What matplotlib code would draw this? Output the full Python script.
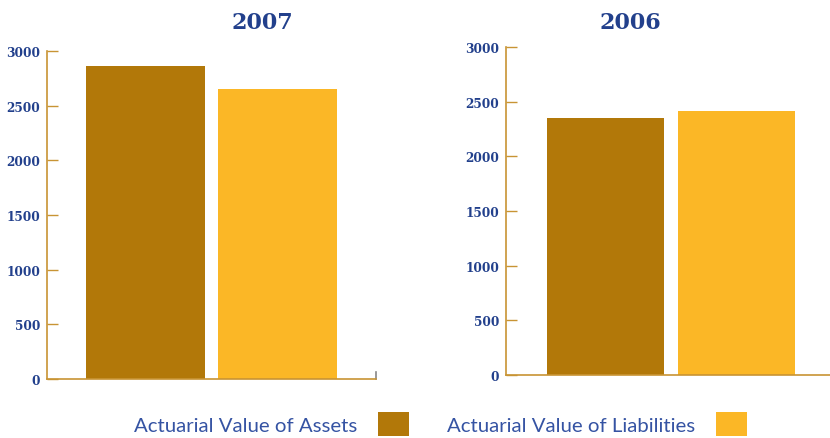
import matplotlib
matplotlib.use("Agg")
import matplotlib.pyplot as plt
from matplotlib.patches import Patch

years = ["2007", "2006"]
series = ["Actuarial Value of Assets", "Actuarial Value of Liabilities"]
assets = [2863, 2351]
liabilities = [2652, 2415]
yticks = [0, 500, 1000, 1500, 2000, 2500, 3000]

c_assets = "#B27809"
c_liab = "#FBB726"
c_axis = "#C89434"
c_text = "#22408C"
c_leg = "#3553A3"

W, H = 830, 439
fig = plt.figure(figsize=(W / 100, H / 100), dpi=100)

panels = [
    # (left px, right px, y0 px, y3000 px, xlim)
    (47, 376, 380, 52, (-0.746, 1.746)),
    (506, 830, 376, 48, (-0.76, 1.714)),
]

for i, (lp, rp, y0, y3, xl) in enumerate(panels):
    ax = fig.add_axes([lp / W, (H - y0) / H, (rp - lp) / W, (y0 - y3) / H])
    ax.bar([0, 1], [assets[i], liabilities[i]], width=0.9,
           color=[c_assets, c_liab], edgecolor="none")
    ax.set_xlim(*xl)
    ax.set_ylim(0, 3000)
    ax.set_yticks(yticks)
    ax.set_yticklabels([str(v) for v in yticks], fontfamily="DejaVu Serif",
                       fontweight="bold", fontsize=8.7, color=c_text)
    ax.tick_params(axis="y", direction="in", length=8, width=1, color=c_axis, pad=5)
    ax.set_xticks([])
    for s in ["top", "right"]:
        ax.spines[s].set_visible(False)
    ax.spines["left"].set_color(c_axis)
    ax.spines["bottom"].set_color(c_axis)
    ax.spines["left"].set_linewidth(1.2)
    ax.spines["bottom"].set_linewidth(1.2)
    ax.set_facecolor("none")
    if i == 0:
        ax.plot([1, 1], [0, 60], transform=ax.get_yaxis_transform(),
                color="#888888", lw=1.2, clip_on=False)

fig.text(262 / W, 1 - 23 / H, years[0], ha="center", va="center",
         fontfamily="DejaVu Serif", fontweight="bold", fontsize=16, color=c_text)
fig.text(630 / W, 1 - 23 / H, years[1], ha="center", va="center",
         fontfamily="DejaVu Serif", fontweight="bold", fontsize=16, color=c_text)

handles = [Patch(facecolor=c_assets, edgecolor="none"),
           Patch(facecolor=c_liab, edgecolor="none")]
leg = fig.legend(handles, series, loc="center", bbox_to_anchor=(440.5 / W, 1 - 425 / H),
                 ncol=2, markerfirst=False, frameon=False, handlelength=1.53,
                 handleheight=1.38, handletextpad=1.0, columnspacing=1.87,
                 borderpad=0, prop={"family": "Lato", "size": 14.65})
for t in leg.get_texts():
    t.set_color(c_leg)

fig.savefig("out.png", dpi=100)
